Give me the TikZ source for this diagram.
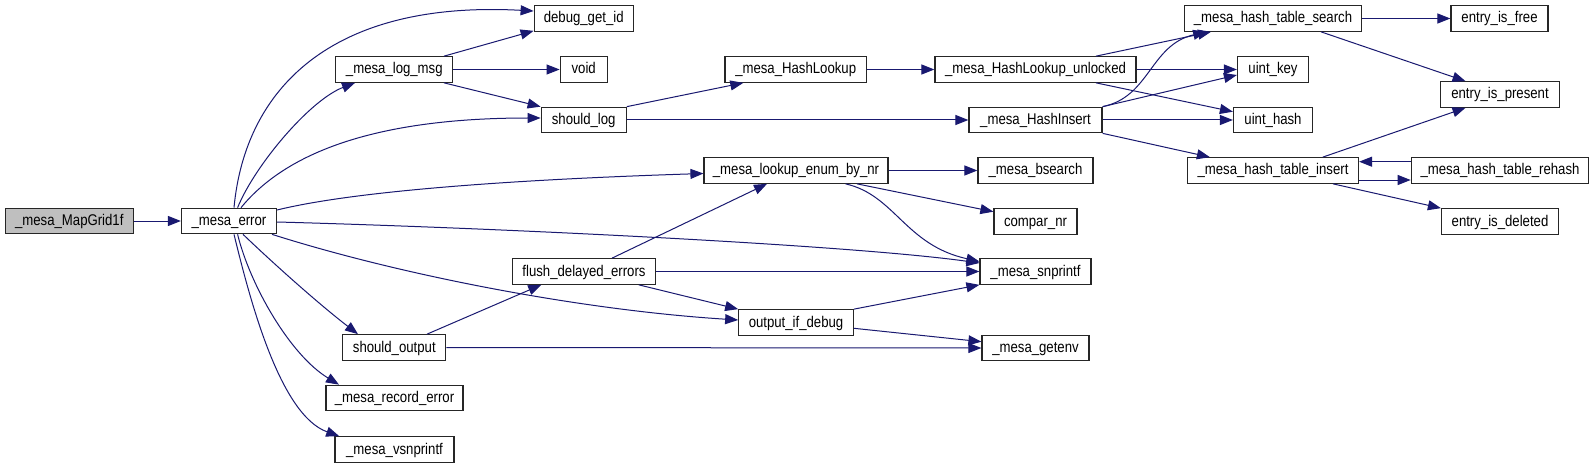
\documentclass[tikz,border=0pt]{standalone}
\usepackage{fontspec}
\setmainfont{Liberation Sans}[FakeStretch=0.85]
\usetikzlibrary{arrows.meta}
\definecolor{edgec}{HTML}{191970}
\definecolor{grayfill}{HTML}{BFBFBF}
\tikzset{
  fn/.style={draw=black!85, fill=white, line width=1.2pt, minimum height=25.5pt, inner sep=0pt,
    font=\fontsize{15.5}{17}\selectfont, text height=11pt, text depth=2pt},
  call/.style={draw=edgec, line width=1pt, -{Triangle[length=13pt,width=10pt]}}
}
\begin{document}
\begin{tikzpicture}[x=1pt,y=-1pt]
\useasboundingbox[fill=white] (0,0) rectangle (1595,468);
% nodes
\node[fn, fill=grayfill, minimum width=128pt] (mapgrid) at (69.3,221) {\_mesa\_MapGrid1f};
\node[fn, minimum width=95pt] (error) at (229,221) {\_mesa\_error};
\node[fn, minimum width=117pt] (logmsg) at (394.3,69.5) {\_mesa\_log\_msg};
\node[fn, minimum width=103pt] (shouldoutput) at (394.3,347.5) {should\_output};
\node[fn, minimum width=137pt] (recorderror) at (394.5,398) {\_mesa\_record\_error};
\node[fn, minimum width=119pt] (vsnprintf) at (394.5,449.5) {\_mesa\_vsnprintf};
\node[fn, minimum width=99pt] (debuggetid) at (583.7,18.5) {debug\_get\_id};
\node[fn, minimum width=47pt] (void) at (583.7,69.5) {void};
\node[fn, minimum width=85pt] (shouldlog) at (583.7,120) {should\_log};
\node[fn, minimum width=141.6pt] (hashlookup) at (795.7,69.5) {\_mesa\_HashLookup};
\node[fn, minimum width=184pt] (lookupenum) at (796,170.5) {\_mesa\_lookup\_enum\_by\_nr};
\node[fn, minimum width=143pt] (flush) at (584,271.5) {flush\_delayed\_errors};
\node[fn, minimum width=114.5pt] (outputdebug) at (796,322.5) {output\_if\_debug};
\node[fn, minimum width=201pt] (unlocked) at (1035.5,69.5) {\_mesa\_HashLookup\_unlocked};
\node[fn, minimum width=133pt] (hashinsert) at (1035.5,120) {\_mesa\_HashInsert};
\node[fn, minimum width=115pt] (bsearch) at (1035.5,170.5) {\_mesa\_bsearch};
\node[fn, minimum width=83pt] (comparnr) at (1035.5,221.5) {compar\_nr};
\node[fn, minimum width=111pt] (snprintf) at (1035.5,271.5) {\_mesa\_snprintf};
\node[fn, minimum width=107pt] (getenv) at (1035.5,348) {\_mesa\_getenv};
\node[fn, minimum width=177.5pt] (htsearch) at (1273,18.5) {\_mesa\_hash\_table\_search};
\node[fn, minimum width=97pt] (entryfree) at (1499.5,18.5) {entry\_is\_free};
\node[fn, minimum width=71pt] (uintkey) at (1273,69.5) {uint\_key};
\node[fn, minimum width=79pt] (uinthash) at (1273,120) {uint\_hash};
\node[fn, minimum width=119pt] (entrypresent) at (1500,94.5) {entry\_is\_present};
\node[fn, minimum width=171pt] (htinsert) at (1273,170.5) {\_mesa\_hash\_table\_insert};
\node[fn, minimum width=177.5pt] (rehash) at (1500,170.5) {\_mesa\_hash\_table\_rehash};
\node[fn, minimum width=117pt] (entrydeleted) at (1500,221.5) {entry\_is\_deleted};
% edges
\draw[call] (mapgrid) -- (error);
\draw[call] ([xshift=5pt]error.north) .. controls (245,90) and (330,0) .. ([yshift=7.5pt]debuggetid.west);
\draw[call] ([xshift=8.6pt]error.north) .. controls (255,165) and (310,100) .. ([xshift=-39.3pt]logmsg.south);
\draw[call] ([xshift=12pt]error.north) .. controls (280,160) and (360,118) .. ([yshift=2pt]shouldlog.west);
\draw[call] ([yshift=11pt]error.east) .. controls (350,192) and (500,180) .. ([yshift=-3pt]lookupenum.west);
\draw[call] ([yshift=-1pt]error.east) .. controls (500,228) and (850,245) .. ([yshift=8.5pt]snprintf.west);
\draw[call] ([xshift=43pt]error.south) .. controls (400,275) and (580,310) .. ([yshift=2.5pt]outputdebug.west);
\draw[call] ([xshift=14pt]error.south) .. controls (275,265) and (320,305) .. ([xshift=-36.3pt]shouldoutput.north);
\draw[call] ([xshift=8.6pt]error.south) .. controls (250,285) and (290,355) .. ([xshift=-55.5pt]recorderror.north);
\draw[call] ([xshift=5pt]error.south) .. controls (250,300) and (280,415) .. ([xshift=-55.3pt]vsnprintf.north);
\draw[call] ([xshift=49.7pt]logmsg.north) -- ([yshift=1pt]debuggetid.south west);
\draw[call] (logmsg) -- (void);
\draw[call] ([xshift=49.7pt]logmsg.south) -- (shouldlog.north west);
\draw[call] (shouldlog.north east) -- ([xshift=19pt]hashlookup.south west);
\draw[call] (shouldlog) -- (hashinsert);
\draw[call] (hashlookup) -- (unlocked);
\draw[call] ([xshift=60.5pt]unlocked.north) -- ([xshift=27.3pt]htsearch.south west);
\draw[call] (unlocked) -- (uintkey);
\draw[call] ([xshift=60.5pt]unlocked.south) -- ([yshift=8.3pt]uinthash.west);
\draw[call] (hashinsert.north east) .. controls (1150,97) and (1150,45) .. ([xshift=22.5pt]htsearch.south west);
\draw[call] (hashinsert.north east) -- ([yshift=-5.5pt]uintkey.west);
\draw[call] (hashinsert) -- (uinthash);
\draw[call] (hashinsert.south east) -- ([xshift=23pt]htinsert.north west);
\draw[call] (htsearch) -- (entryfree);
\draw[call] ([xshift=48pt]htsearch.south) -- ([xshift=25.6pt]entrypresent.north west);
\draw[call] ([xshift=49.7pt]htinsert.north) -- ([xshift=25.6pt]entrypresent.south west);
\draw[call] ([yshift=8.8pt]rehash.west) -- ([yshift=8.8pt]htinsert.east);
\draw[call] ([yshift=-9.5pt]htinsert.east) -- ([yshift=-9.5pt]rehash.west);
\draw[call] ([xshift=60pt]htinsert.south) -- (entrydeleted.north west);
\draw[call] (lookupenum) -- (bsearch);
\draw[call] ([xshift=61pt]lookupenum.south) -- ([yshift=9.8pt]comparnr.west);
\draw[call] ([xshift=49.5pt]lookupenum.south) .. controls (895,195) and (905,245) .. ([yshift=10pt]snprintf.west);
\draw[call] ([xshift=28pt]flush.north) -- ([xshift=-29pt]lookupenum.south);
\draw[call] (flush) -- (snprintf);
\draw[call] ([xshift=54.8pt]flush.south) -- (outputdebug.north west);
\draw[call] ([xshift=32.7pt]shouldoutput.north) -- ([xshift=-42.8pt]flush.south);
\draw[call] (shouldoutput.east) -- (getenv.west);
\draw[call] (outputdebug.north east) -- (snprintf.south west);
\draw[call] ([yshift=-5.8pt]outputdebug.east) -- ([yshift=6.3pt]getenv.west);
\end{tikzpicture}
\end{document}
